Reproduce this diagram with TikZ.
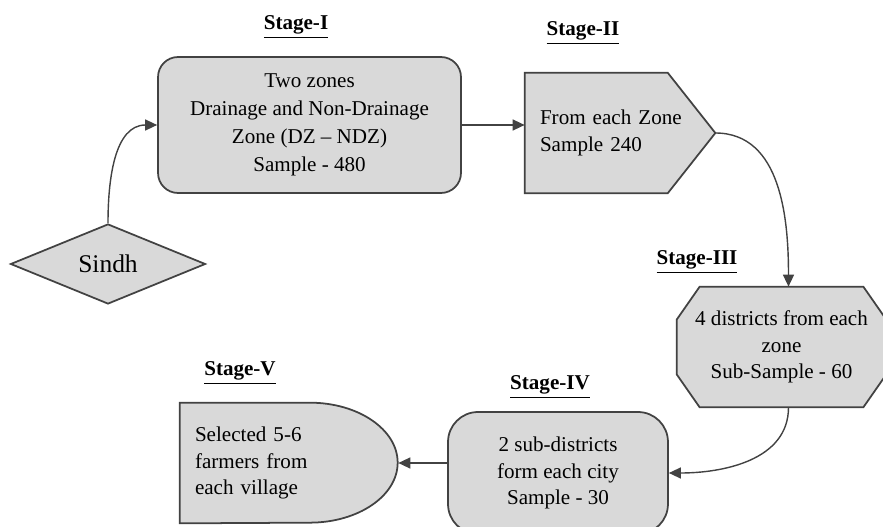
\documentclass[tikz,border=0pt]{standalone}
\usepackage{fontspec}
\setmainfont{Liberation Serif}
\usetikzlibrary{calc, arrows.meta, shapes.geometric, backgrounds}

\definecolor{boxgray}{RGB}{217,217,217}
\definecolor{linegray}{RGB}{66,66,66}

\begin{document}
\begin{tikzpicture}[x = 0.02cm, y = -0.02cm,
    every node/.style = {font=\fontsize{12}{15}\selectfont},
    stagebox/.style = {fill=boxgray, draw=linegray, line width=1pt, inner sep=0pt},
    stagelabel/.style = {font=\fontsize{12}{14}\selectfont\bfseries},
    link/.style = {draw=linegray, line width=0.8pt, -{Triangle[length=0.24cm, width=0.22cm]}}]
        \useasboundingbox (0,0) rectangle (883,527);
        \clip (0,0) rectangle (883,527);

        \node[stagebox, diamond, minimum width=3.9cm, minimum height=1.6cm, font=\fontsize{14.5}{16}\selectfont] (sindh) at (108,264) {Sindh};

        \node[stagelabel] (lab1) at (296,27) {\underline{Stage-I}};
        \node[stagebox, rounded corners=0.4cm, minimum width=6.06cm, minimum height=2.72cm, align=center, font=\fontsize{12}{16}\selectfont] (s1) at (309.5,125) {Two zones\\Drainage and Non-Drainage\\Zone (DZ -- NDZ)\\Sample - 480};

        \node[stagelabel] (lab2) at (583,33) {\underline{Stage-II}};
        \node[minimum width=3.8cm, minimum height=2.4cm, text width=3.2cm, align=left, inner sep=0pt] (s2) at (620,133) {From each Zone\\Sample 240};

        \node[stagelabel] (lab3) at (697,262) {\underline{Stage-III}};
        \node[minimum width=4.18cm, minimum height=2.4cm, align=center, inner sep=0pt] (s3) at (781.5,347) {4 districts from each\\zone\\Sub-Sample - 60};

        \node[stagelabel] (lab4) at (550,387) {\underline{Stage-IV}};
        \node[stagebox, rounded corners=0.6cm, minimum width=4.4cm, minimum height=2.44cm, align=center] (s4) at (558,473) {2 sub-districts\\form each city\\Sample - 30};

        \node[stagelabel] (lab5) at (240,373) {\underline{Stage-V}};
        \node[minimum width=4.36cm, minimum height=2.4cm, text width=3.76cm, align=left, inner sep=0pt] (s5) at (289,463) {Selected 5-6\\farmers from\\each village};

        % outlines of the shapes drawn behind their texts
        \begin{scope}[on background layer]
          \filldraw[stagebox] (s2.north west)-- ++(143,0)-- (s2.east)-- ($(s2.south west)+(143,0)$)-- (s2.south west)--cycle;
          \filldraw[stagebox] ($(s3.north west)+(23,0)$)-- ($(s3.north east)+(-23,0)$)-- ($(s3.north east)+(0,33)$)-- ($(s3.south east)+(0,-33)$)-- ($(s3.south east)+(-23,0)$)-- ($(s3.south west)+(23,0)$)-- ($(s3.south west)+(0,-33)$)-- ($(s3.north west)+(0,33)$)--cycle;
          \filldraw[stagebox] (s5.north west)-- ++(130,0) arc[start angle=-90, end angle=90, x radius=88, y radius=60]-- (s5.south west)--cycle;
        \end{scope}

        \draw[link] (sindh.north) to[out=90, in=180] (s1.west);
        \draw[link] (s1.east) -- (s1.east -| s2.west);
        \draw[link] (s2.east) to[out=0, in=90] ($(s3.north)+(7,0)$);
        \draw[link] ($(s3.south)+(7,0)$) to[out=-90, in=0] (s4.east);
        \draw[link] (s4.west |- s5.east) -- (s5.east);
      \end{tikzpicture}
\end{document}
